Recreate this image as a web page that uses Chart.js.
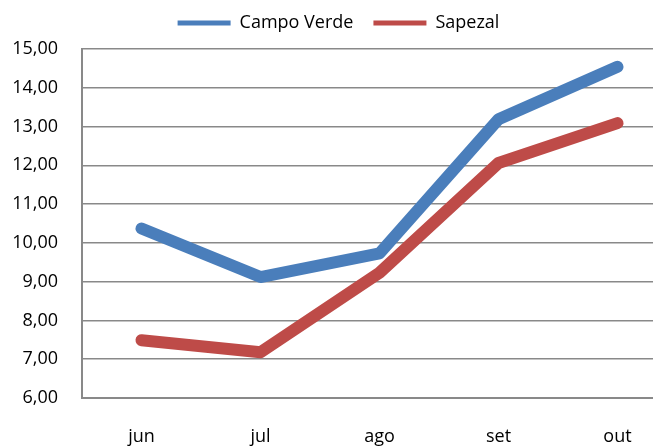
<!DOCTYPE html>
<html>
<head>
<meta charset="utf-8">
<script src="https://cdn.jsdelivr.net/npm/chart.js@4"></script>
<style>
  html, body { margin: 0; padding: 0; background: #fff; overflow: hidden; }
  .chart-wrap { position: relative; width: 680px; height: 446px; }
</style>
</head>
<body>
<div class="chart-wrap"><canvas id="chart" width="680" height="446"></canvas></div>
<script>
const months = ['jun', 'jul', 'ago', 'set', 'out'];
const campoVerde = [10.37, 9.12, 9.73, 13.19, 14.54];
const sapezal = [7.49, 7.18, 9.23, 12.06, 13.09];
const yTicks = [6, 7, 8, 9, 10, 11, 12, 13, 14, 15];

const gridColor = '#898989';
const textFont = { family: '"Open Sans", sans-serif', size: 18 };

// legend gets a bit of extra room below it so the plot starts lower
const legendSpace = {
  id: 'legendSpace',
  afterInit(chart) {
    const legend = chart.legend;
    const fit = legend.fit.bind(legend);
    legend.fit = function () {
      fit();
      this.height += 7;
    };
  },
};

const ctx = document.getElementById('chart').getContext('2d');

new Chart(ctx, {
  type: 'line',
  data: {
    labels: months,
    datasets: [
      {
        label: 'Campo Verde',
        data: campoVerde,
        borderColor: '#4A7EBB',
        backgroundColor: '#4A7EBB',
      },
      {
        label: 'Sapezal',
        data: sapezal,
        borderColor: '#BE4B48',
        backgroundColor: '#BE4B48',
      },
    ],
  },
  options: {
    responsive: false,
    animation: false,
    devicePixelRatio: 1,
    layout: { padding: { top: -6, right: 3, left: 0, bottom: 0 } },
    elements: {
      line: {
        borderWidth: 12,
        tension: 0,
        borderCapStyle: 'round',
        borderJoinStyle: 'round',
      },
      point: { radius: 0, hoverRadius: 0 },
    },
    plugins: {
      legend: {
        position: 'top',
        labels: {
          color: '#000',
          font: textFont,
          usePointStyle: true,
          pointStyleWidth: 53,
          boxHeight: 14,
          padding: 20,
          generateLabels(chart) {
            const items = Chart.defaults.plugins.legend.labels.generateLabels(chart);
            return items.map((item) => ({ ...item, pointStyle: 'line', lineWidth: 5, lineCap: 'butt' }));
          },
        },
      },
      tooltip: { enabled: false },
    },
    scales: {
      x: {
        offset: true,
        grid: { display: false },
        border: { display: true, color: gridColor, width: 2 },
        ticks: { color: '#000', font: textFont, padding: 20 },
        afterFit(scale) { scale.height = 48; },
      },
      y: {
        min: 6,
        max: 15,
        afterBuildTicks(scale) { scale.ticks = yTicks.map((v) => ({ value: v })); },
        grid: { color: gridColor, lineWidth: 1.5, drawTicks: false },
        border: { display: true, color: gridColor, width: 2 },
        ticks: {
          color: '#000',
          font: textFont,
          padding: 24,
          autoSkip: false,
          callback: (v) => v.toFixed(2).replace('.', ','),
        },
        afterFit(scale) { scale.width = 82; },
      },
    },
  },
  plugins: [legendSpace],
});
</script>
</body>
</html>
